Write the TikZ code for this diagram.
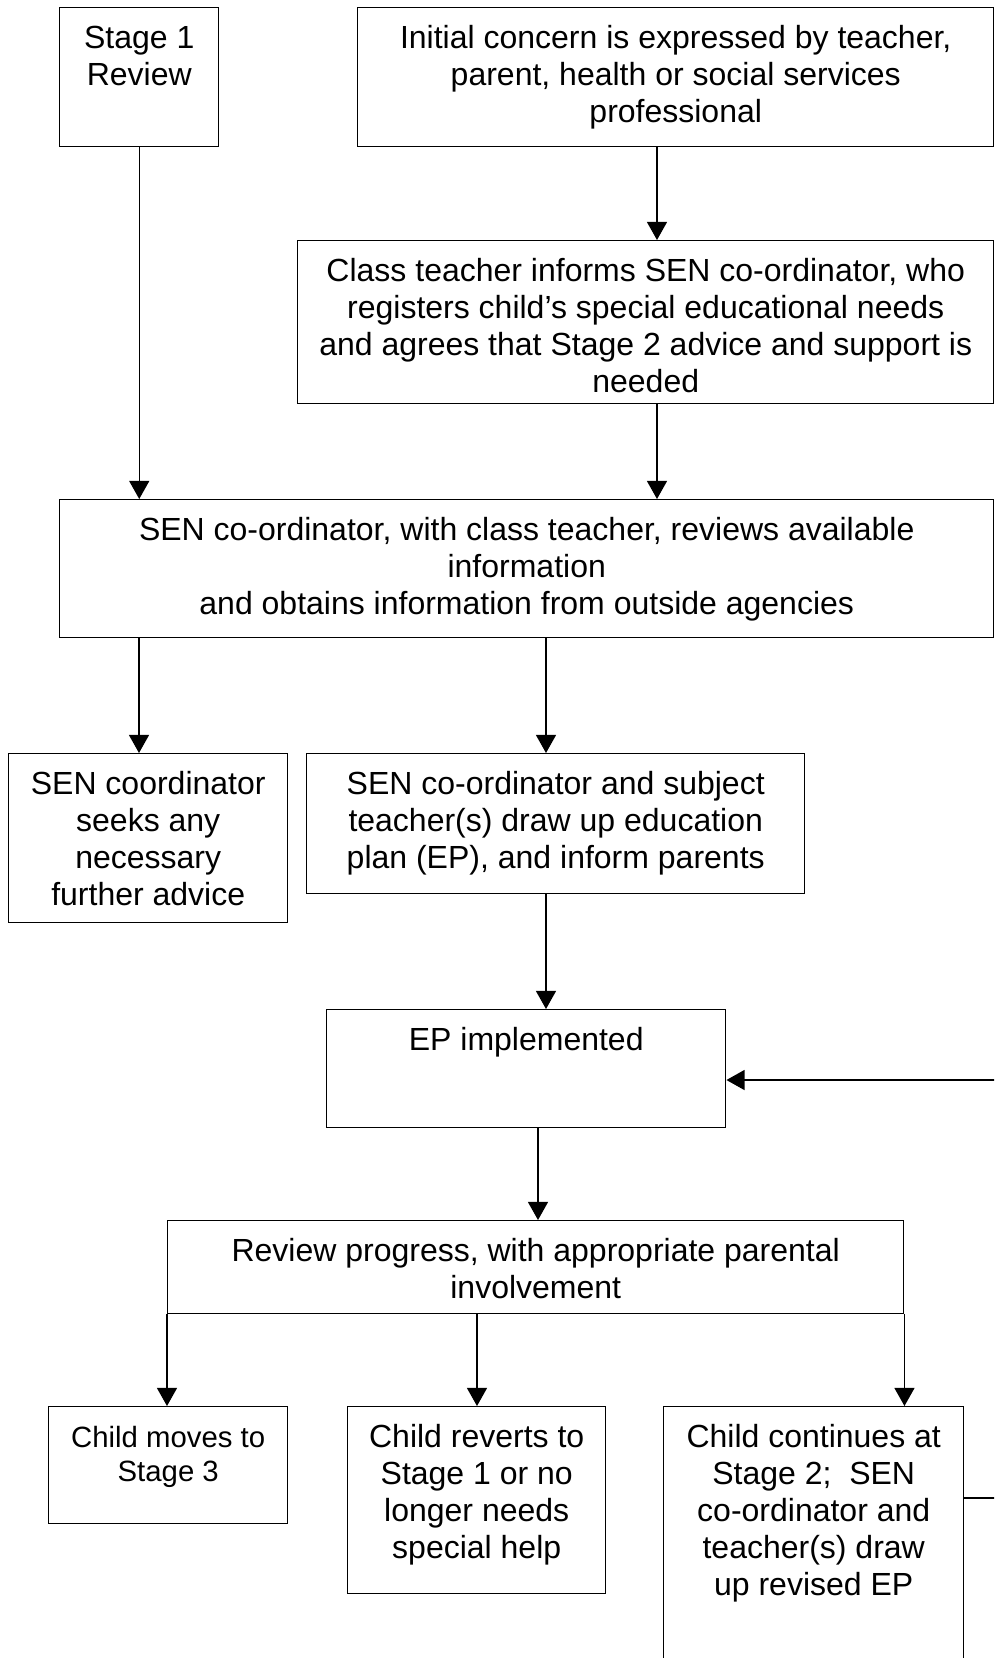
\documentclass[tikz,border=0pt]{standalone}
\usepackage{fontspec}
\setmainfont{Liberation Sans}
\usetikzlibrary{arrows.meta,calc}
\newdimen\pxu \pxu=0.375pt
\newcommand{\boxtext}[3]{\parbox[t][#2\pxu][t]{#1\pxu}{\centering\rule{0pt}{15.3pt}#3}}
\tikzset{
  box/.style={draw,line width=0.55pt,inner sep=0pt,anchor=north west,font=\fontsize{12}{13.9}\selectfont},
  smallbox/.style={box,font=\fontsize{11}{12.6}\selectfont},
  flow/.style={-{Triangle[length=6.8pt,width=7.5pt]},line width=0.55pt},
}
\begin{document}
\begin{tikzpicture}[x=0.375pt,y=-0.375pt]
  \useasboundingbox (0,0) rectangle (994,1658);
  \clip (0,0) rectangle (994,1658);
  \node[box] (stage) at (59,7) {\boxtext{159}{139}{Stage 1\\Review}};
  \node[box] (init) at (357,7) {\boxtext{636}{139}{Initial concern is expressed by teacher,\\parent, health or social services\\professional}};
  \node[box] (cls) at (297,240) {\boxtext{696}{163}{Class teacher informs SEN co-ordinator, who\\registers child’s special educational needs\\and agrees that Stage 2 advice and support is\\needed}};
  \node[box] (rev) at (59,499) {\boxtext{934}{138}{SEN co-ordinator, with class teacher, reviews available\\information\\and obtains information from outside agencies}};
  \node[box] (adv) at (8,753) {\boxtext{279}{169}{SEN coordinator\\seeks any\\necessary\\further advice}};
  \node[box] (plan) at (306,753) {\boxtext{498}{140}{SEN co-ordinator and subject\\teacher(s) draw up education\\plan (EP), and inform parents}};
  \node[box] (ep) at (326,1009) {\boxtext{399}{118}{EP implemented}};
  \node[box] (prog) at (167,1220) {\boxtext{736}{93}{Review progress, with appropriate parental\\involvement}};
  \node[smallbox] (moves) at (48,1406) {\boxtext{239}{117}{Child moves to\\Stage 3}};
  \node[box] (revert) at (347,1406) {\boxtext{258}{187}{Child reverts to\\Stage 1 or no\\longer needs\\special help}};
  \node[box] (cont) at (663,1406) {\boxtext{300}{300}{Child continues at\\Stage 2;\ \ SEN\\co-ordinator and\\teacher(s) draw\\up revised EP}};
  % connectors
  \draw[flow] (stage.south) -- (stage.south |- rev.north);
  \draw[flow] ($(init.south west)+(300,0)$) coordinate (t1) -- (t1 |- cls.north);
  \draw[flow] ($(cls.south west)+(360,0)$) coordinate (t2) -- (t2 |- rev.north);
  \draw[flow] ($(rev.south west)+(80,0)$) coordinate (t3) -- (t3 |- adv.north);
  \draw[flow] ($(rev.south west)+(487,0)$) coordinate (t4) -- (t4 |- plan.north);
  \draw[flow] ($(plan.south west)+(240,0)$) coordinate (t5) -- (t5 |- ep.north);
  \draw[flow] ($(ep.south west)+(212,0)$) coordinate (t6) -- (t6 |- prog.north);
  \draw[flow] (prog.south west) -- (prog.south west |- moves.north);
  \draw[flow] ($(prog.south west)+(310,0)$) coordinate (t7) -- (t7 |- revert.north);
  \draw[flow] (prog.south east) -- (prog.south east |- cont.north);
  % loop back to EP
  \draw[flow] ($(cont.north east)+(0,92)$) -- ++(60,0) coordinate (fb)
    -- ($(fb |- ep.north east)+(0,71)$) -- ($(ep.north east)+(0,71)$);
\end{tikzpicture}
\end{document}
